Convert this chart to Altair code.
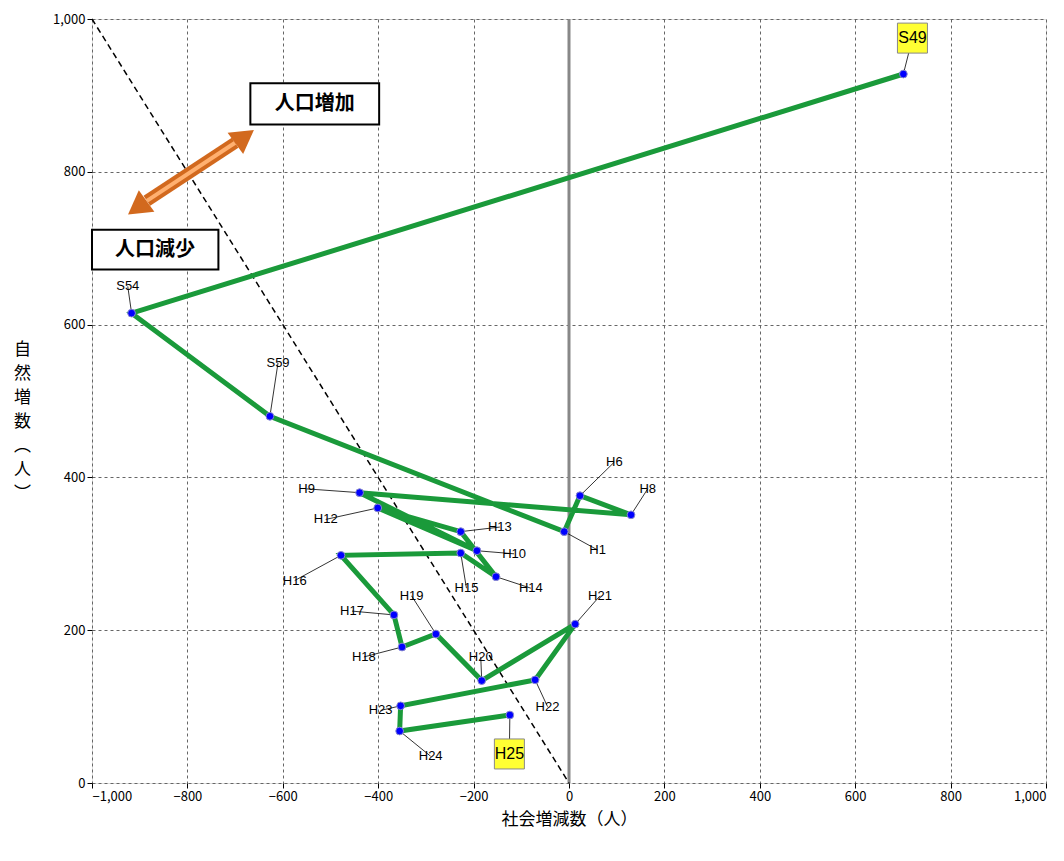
import altair as alt
import pandas as pd

labels = ["S49","S54","S59","H1","H6","H8","H9","H10","H12","H13","H14","H15","H16","H17","H18","H19","H20","H21","H22","H23","H24","H25"]
social = [701,-917,-627,-10,23,130,-439,-193,-401,-227,-153,-227,-478,-367,-350,-279,-183,13,-71,-353,-355,-124]
natural = [928,615,480,329,376,351,380,304,360,329,270,301,298,220,178,195,134,208,135,101,68,89]
# label anchor positions (data units)
lab_x = [720,-925,-610,60,95,165,-550,-115,-510,-145,-80,-215,-575,-455,-430,-330,-185,65,-45,-395,-290,-125]
lab_y = [975,650,550,305,420,385,385,300,345,335,255,255,265,225,165,245,165,245,100,95,35,38]
ticks = [-1000,-800,-600,-400,-200,0,200,400,600,800,1000]

df = pd.DataFrame({"label":labels,"x":social,"y":natural,"lx":lab_x,"ly":lab_y,"order":range(len(labels))})
plain = df[~df.label.isin(["S49","H25"])]
hl = df[df.label.isin(["S49","H25"])]

xs = alt.Scale(domain=[-1000,1000], nice=False)
ys = alt.Scale(domain=[0,1000], nice=False)
X = alt.X("x:Q", scale=xs, title="社会増減数（人）",
          axis=alt.Axis(values=ticks, format=",.0f", gridDash=[3,3], gridColor="#666", labelFontSize=13,
                        titleFontSize=17, titleFontWeight="normal", labelColor="black", titleColor="black",
                        domain=False, tickColor="black", titlePadding=8))
Y = alt.Y("y:Q", scale=ys, title=["自","然","増","数","︵","人","︶"],
          axis=alt.Axis(values=[0,200,400,600,800,1000], format=",.0f", gridDash=[3,3], gridColor="#666",
                        labelFontSize=13, titleFontSize=17, titleFontWeight="normal", titleAngle=0,
                        titleBaseline="middle", titleX=-70, titleY=330, titleLineHeight=24, labelColor="black",
                        titleColor="black", domain=False, tickColor="black"))

base = alt.Chart(df)
zero = alt.Chart(pd.DataFrame({"x":[0,0],"y":[0,1000]})).mark_line(color="#888", strokeWidth=3).encode(x=alt.X("x:Q",scale=xs), y=alt.Y("y:Q",scale=ys))
diag = alt.Chart(pd.DataFrame({"x":[-1000,0],"y":[1000,0]})).mark_line(color="black", strokeDash=[6,4], strokeWidth=1.5).encode(x=alt.X("x:Q",scale=xs), y=alt.Y("y:Q",scale=ys))
line = base.mark_line(color="#1a9a3a", strokeWidth=5).encode(X, Y, order="order:Q")
lead = base.mark_rule(color="black", strokeWidth=0.8).encode(x=alt.X("x:Q",scale=xs), y=alt.Y("y:Q",scale=ys), x2="lx:Q", y2="ly:Q")
pts = base.mark_point(filled=True, color="blue", size=60, opacity=1, stroke="#88c", strokeWidth=1).encode(x=alt.X("x:Q",scale=xs), y=alt.Y("y:Q",scale=ys))
txt = alt.Chart(plain).mark_text(fontSize=13, font="Liberation Sans").encode(x=alt.X("lx:Q",scale=xs), y=alt.Y("ly:Q",scale=ys), text="label:N")
hbox = alt.Chart(hl).mark_point(shape="square", size=900, filled=True, color="#ffff33", stroke="#888", strokeWidth=1, opacity=1).encode(x=alt.X("lx:Q",scale=xs), y=alt.Y("ly:Q",scale=ys))
htxt = alt.Chart(hl).mark_text(fontSize=16, font="Liberation Sans").encode(x=alt.X("lx:Q",scale=xs), y=alt.Y("ly:Q",scale=ys), text="label:N")

box_text = ["人口増加","人口減少"]
box_x1 = [-668,-1000]; box_x2 = [-398,-735]
box_y1 = [862,672]; box_y2 = [916,724]
box_cx = [-533,-868]; box_cy = [889,698]
bdf = pd.DataFrame({"t":box_text,"x1":box_x1,"x2":box_x2,"y1":box_y1,"y2":box_y2,"cx":box_cx,"cy":box_cy})
boxes = alt.Chart(bdf).mark_rect(fill="white", stroke="black", strokeWidth=2).encode(x=alt.X("x1:Q",scale=xs), x2="x2:Q", y=alt.Y("y1:Q",scale=ys), y2="y2:Q")
btxt = alt.Chart(bdf).mark_text(fontSize=20, fontWeight="bold", font="Noto Sans CJK JP").encode(x=alt.X("cx:Q",scale=xs), y=alt.Y("cy:Q",scale=ys), text="t:N")

arrow_x = [-885,-700]; arrow_y = [762,838]
adf = pd.DataFrame({"x":arrow_x,"y":arrow_y})
ashaft = alt.Chart(adf).mark_line(color="#d2691e", strokeWidth=12).encode(x=alt.X("x:Q",scale=xs), y=alt.Y("y:Q",scale=ys))
ashaft2 = alt.Chart(adf).mark_line(color="#ffb070", strokeWidth=4).encode(x=alt.X("x:Q",scale=xs), y=alt.Y("y:Q",scale=ys))
hdf = pd.DataFrame({"x":[-905,-680],"y":[753,846],"a":[234,54]})
heads = alt.Chart(hdf).mark_point(shape="triangle-up", size=700, filled=True, color="#d2691e", opacity=1).encode(x=alt.X("x:Q",scale=xs), y=alt.Y("y:Q",scale=ys), angle=alt.Angle("a:Q", scale=None))

chart = alt.layer(
    base.mark_point(opacity=0).encode(X, Y), zero, diag, line, lead, pts, txt, hbox, htxt, boxes, btxt, ashaft, ashaft2, heads
).properties(width=954, height=764).configure_view(stroke="black", strokeWidth=1.5).configure(font="Noto Sans CJK JP")
chart.save("out.html", embed_options={"renderer": "svg", "actions": False})
